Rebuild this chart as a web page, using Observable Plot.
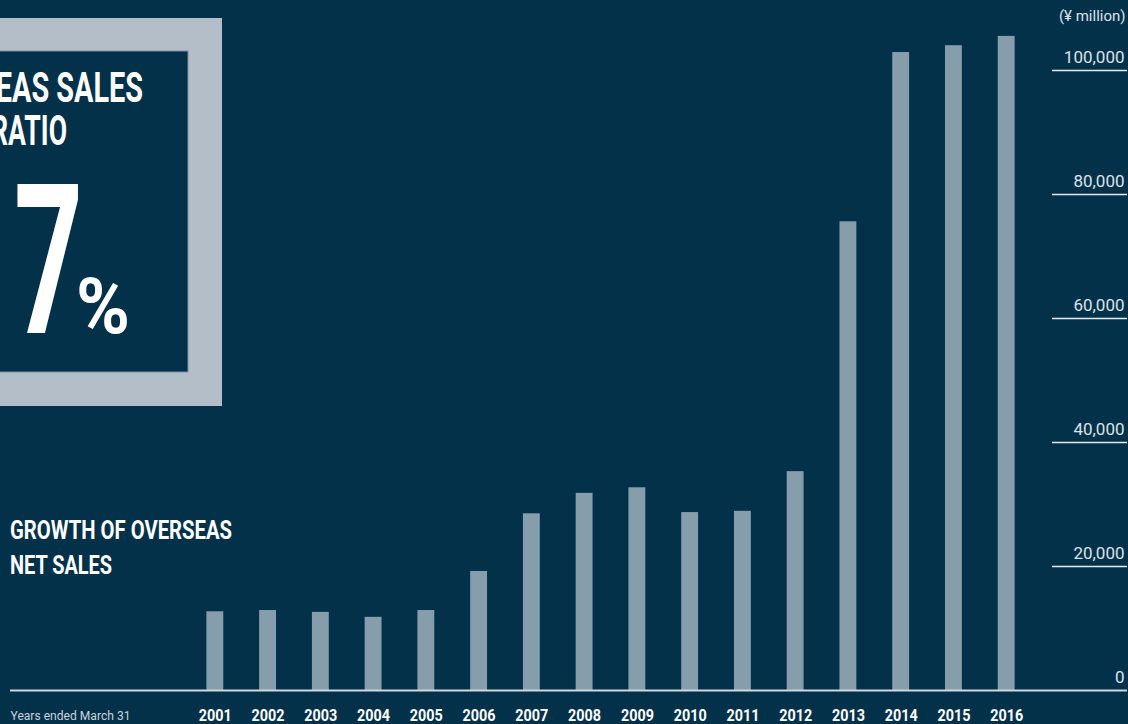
<!DOCTYPE html>
<html>
<head>
<meta charset="utf-8">
<script src="https://cdn.jsdelivr.net/npm/d3@7"></script>
<script src="https://cdn.jsdelivr.net/npm/@observablehq/plot@0.6"></script>
<style>
  html, body { margin: 0; padding: 0; background: #03314a; }
  #wrap { position: relative; width: 1128px; height: 724px; overflow: hidden; background: #03314a; }
  #deco, #chart { position: absolute; left: 0; top: 0; }
  #chart svg { display: block; }
  .cond { font-family: Roboto, "Liberation Sans", sans-serif; }
</style>
</head>
<body>
<div id="wrap">
  <svg id="deco" width="1128" height="724" class="cond">
    <rect x="-60" y="18" width="282" height="388" fill="#b4bec9"></rect>
    <rect x="-60" y="51" width="248" height="321" fill="#03314a" stroke="#7a8da0" stroke-width="1"></rect>
    <text x="-95" y="102" font-size="42" font-weight="bold" fill="#ffffff" textLength="238" lengthAdjust="spacingAndGlyphs">OVERSEAS SALES</text>
    <text x="-9" y="145" font-size="42" font-weight="bold" fill="#ffffff" textLength="76" lengthAdjust="spacingAndGlyphs">RATIO</text>
    <text x="14" y="333" font-size="209" font-weight="bold" fill="#ffffff" textLength="69" lengthAdjust="spacingAndGlyphs">7</text>
    <text x="76" y="333" font-size="77" font-weight="bold" fill="#ffffff" textLength="54" lengthAdjust="spacingAndGlyphs">%</text>
    <text x="10" y="539" font-size="26" font-weight="bold" fill="#ffffff" textLength="222" lengthAdjust="spacingAndGlyphs">GROWTH OF OVERSEAS</text>
    <text x="10" y="574" font-size="26" font-weight="bold" fill="#ffffff" textLength="102" lengthAdjust="spacingAndGlyphs">NET SALES</text>
  </svg>
  <div id="chart"></div>
</div>
<script>
// ---- data ----
const years = ["2001","2002","2003","2004","2005","2006","2007","2008","2009","2010","2011","2012","2013","2014","2015","2016"];
const sales = [12700, 12900, 12600, 11800, 12900, 19200, 28500, 31800, 32700, 28700, 28900, 35300, 75600, 102900, 104000, 105500];
const yTicks = [0, 20000, 40000, 60000, 80000, 100000];
const unitLabel = "(¥ million)";
const xNote = "Years ended March 31";

const rows = years.map((y, i) => ({year: y, value: sales[i]}));
const fmt = d3.format(",");
const font = 'Roboto, "Liberation Sans", sans-serif';

const chart = Plot.plot({
  width: 1128,
  height: 724,
  marginTop: 8,
  marginBottom: 34,
  marginLeft: 180,
  marginRight: 87,
  style: {background: "transparent", color: "#ffffff", fontFamily: font, overflow: "visible"},
  x: {domain: years, paddingInner: 0.68, paddingOuter: 0.5, round: false, axis: null},
  y: {domain: [0, 110000], axis: null},
  marks: [
    Plot.barY(rows, {x: "year", y: "value", fill: "#869dab"}),
    Plot.ruleY(yTicks.filter(d => d > 0), {stroke: "#e6ebf0", strokeWidth: 1.4, insetLeft: 872, insetRight: -86}),
    Plot.ruleY([0], {stroke: "#cfd7de", strokeWidth: 2, insetLeft: -170, insetRight: -86}),
    Plot.text(yTicks, {y: d => d, text: d => fmt(d), frameAnchor: "right", dx: 83, dy: -8, textAnchor: "end", lineAnchor: "bottom", fill: "#dbe2e8", fontSize: 17}),
    Plot.text([unitLabel], {text: d => d, frameAnchor: "top-right", dx: 84, dy: 2, textAnchor: "end", lineAnchor: "top", fill: "#dbe2e8", fontSize: 15}),
    Plot.text(years, {x: d => d, text: d => d, frameAnchor: "bottom", dy: 25, lineAnchor: "middle", fill: "#ffffff", fontSize: 17, fontWeight: "bold"}),
    Plot.text([xNote], {text: d => d, frameAnchor: "bottom-left", dx: -170, dy: 25, textAnchor: "start", lineAnchor: "middle", fill: "#c9d2da", fontSize: 12.5})
  ]
});
// condense the year labels like the reference's narrow typeface
chart.querySelectorAll("text").forEach(t => {
  if (/^\d{4}$/.test(t.textContent)) {
    t.setAttribute("textLength", "33");
    t.setAttribute("lengthAdjust", "spacingAndGlyphs");
  }
  if (t.textContent === xNote) {
    t.setAttribute("textLength", "120");
    t.setAttribute("lengthAdjust", "spacingAndGlyphs");
  }
});
document.getElementById("chart").appendChild(chart);
</script>
</body>
</html>
